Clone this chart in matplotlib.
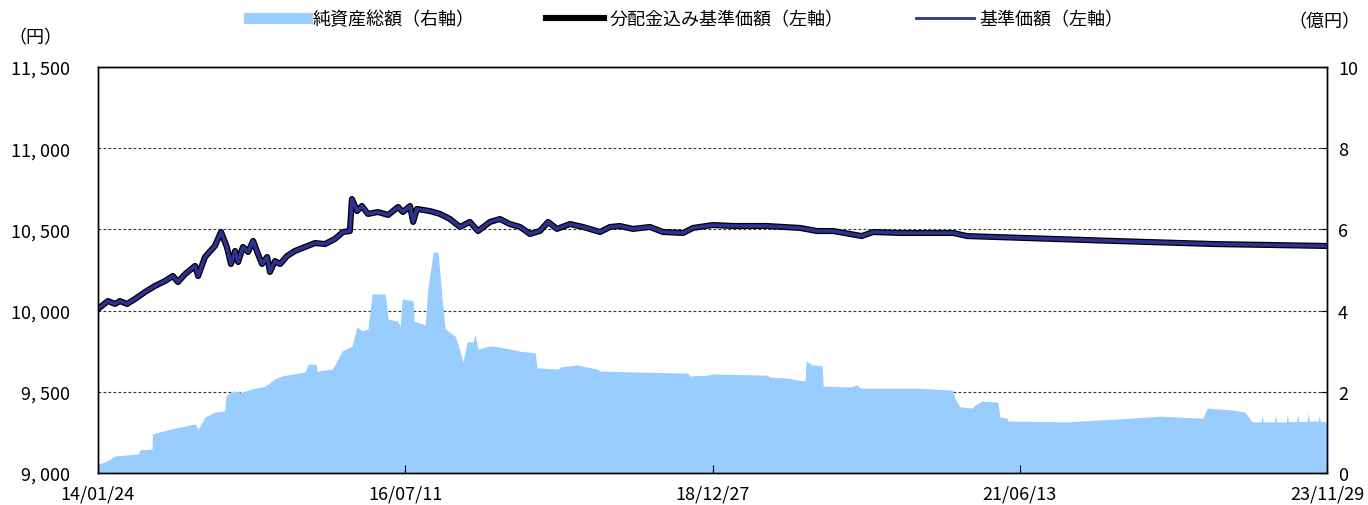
import pandas as pd
import numpy as np
import matplotlib
matplotlib.use("Agg")
import matplotlib.pyplot as plt
import matplotlib.dates as mdates
from matplotlib.lines import Line2D

plt.rcParams['font.family'] = ['Noto Sans CJK JP', 'DejaVu Sans']

# 基準価額 (円)
price_dates = [
    "2014-01-24", "2014-02-22", "2014-03-15", "2014-03-29", "2014-04-19", "2014-05-12",
    "2014-06-11", "2014-07-10", "2014-08-08", "2014-08-31", "2014-09-15", "2014-10-06",
    "2014-11-04", "2014-11-13", "2014-12-03", "2015-01-01", "2015-01-19", "2015-02-05",
    "2015-02-17", "2015-03-01", "2015-03-10", "2015-03-24", "2015-04-08", "2015-04-23",
    "2015-05-07", "2015-05-19", "2015-06-03", "2015-06-11", "2015-06-26", "2015-07-11",
    "2015-07-31", "2015-08-23", "2015-09-22", "2015-10-21", "2015-11-19", "2015-12-18",
    "2016-01-11", "2016-01-31", "2016-02-06", "2016-02-21", "2016-03-06", "2016-03-24",
    "2016-04-22", "2016-05-22", "2016-06-20", "2016-07-04", "2016-07-25", "2016-08-03",
    "2016-08-14", "2016-09-21", "2016-10-21", "2016-11-19", "2016-12-18", "2017-01-16",
    "2017-02-09", "2017-03-16", "2017-04-14", "2017-05-13", "2017-06-12", "2017-07-11",
    "2017-08-09", "2017-09-02", "2017-09-28", "2017-11-05", "2017-12-13", "2018-02-01",
    "2018-03-02", "2018-03-31", "2018-05-08", "2018-06-27", "2018-08-04", "2018-10-02",
    "2018-10-31", "2018-12-28", "2019-02-25", "2019-06-04", "2019-09-09", "2019-10-29",
    "2019-12-15", "2020-03-08", "2020-04-10", "2020-06-28", "2020-11-30", "2021-01-10",
    "2022-03-14", "2022-12-31", "2023-11-29",
]
price = [
    10010, 10059, 10041, 10059, 10041, 10071,
    10115, 10152, 10182, 10213, 10176, 10225,
    10275, 10213, 10330, 10398, 10484, 10392,
    10287, 10367, 10299, 10392, 10361, 10429,
    10349, 10287, 10330, 10238, 10305, 10287,
    10336, 10367, 10392, 10416, 10410, 10441,
    10484, 10490, 10687, 10613, 10644, 10595,
    10607, 10589, 10638, 10607, 10644, 10546,
    10626, 10613, 10595, 10564, 10515, 10546,
    10490, 10546, 10564, 10533, 10515, 10472,
    10490, 10546, 10503, 10533, 10515, 10484,
    10515, 10521, 10503, 10515, 10484, 10478,
    10509, 10527, 10521, 10521, 10509, 10490,
    10490, 10459, 10484, 10478, 10478, 10459,
    10429, 10410, 10398,
]
# no distributions paid, so both price series coincide
price_with_div = list(price)

# 純資産総額 (億円)
nav_dates = [
    "2014-01-24", "2014-02-13", "2014-02-28", "2014-03-15", "2014-05-21", "2014-05-27",
    "2014-07-01", "2014-07-02", "2014-08-23", "2014-11-04", "2014-11-13", "2014-12-03",
    "2015-01-01", "2015-01-30", "2015-02-02", "2015-02-23", "2015-03-21", "2015-04-20",
    "2015-05-28", "2015-06-26", "2015-07-16", "2015-09-22", "2015-10-01", "2015-10-24",
    "2015-10-27", "2015-12-10", "2015-12-19", "2016-01-08", "2016-02-06", "2016-02-21",
    "2016-03-07", "2016-03-24", "2016-04-05", "2016-05-13", "2016-05-22", "2016-06-20",
    "2016-06-26", "2016-07-02", "2016-08-03", "2016-08-06", "2016-09-07", "2016-09-16",
    "2016-10-01", "2016-10-15", "2016-10-27", "2016-11-05", "2016-12-04", "2016-12-19",
    "2016-12-27", "2017-01-08", "2017-01-25", "2017-01-31", "2017-02-09", "2017-03-16",
    "2017-04-14", "2017-06-12", "2017-07-26", "2017-08-01", "2017-10-01", "2017-10-07",
    "2017-11-26", "2018-01-23", "2018-02-01", "2018-05-09", "2018-10-14", "2018-10-23",
    "2018-12-11", "2018-12-28", "2019-06-04", "2019-06-13", "2019-08-02", "2019-08-31",
    "2019-09-24", "2019-09-27", "2019-10-14", "2019-11-13", "2019-11-16", "2020-02-02",
    "2020-02-23", "2020-03-03", "2020-08-17", "2020-11-29", "2020-12-05", "2020-12-20",
    "2021-01-24", "2021-02-02", "2021-02-23", "2021-04-10", "2021-04-16", "2021-05-07",
    "2021-05-10", "2021-10-29", "2022-03-25", "2022-07-29", "2022-12-01", "2022-12-13",
    "2023-02-27", "2023-04-03", "2023-04-24", "2023-05-20", "2023-05-23", "2023-05-26",
    "2023-06-28", "2023-07-01", "2023-07-04", "2023-08-02", "2023-08-05", "2023-08-08",
    "2023-09-01", "2023-09-04", "2023-09-07", "2023-10-02", "2023-10-05", "2023-10-08",
    "2023-11-03", "2023-11-06", "2023-11-09", "2023-11-29",
]
nav = [
    0.22, 0.27, 0.34, 0.42, 0.47, 0.57,
    0.59, 0.96, 1.08, 1.21, 1.08, 1.38,
    1.50, 1.53, 1.90, 2.02, 1.99, 2.07,
    2.14, 2.32, 2.39, 2.49, 2.68, 2.68,
    2.51, 2.56, 2.68, 3.00, 3.13, 3.60,
    3.50, 3.55, 4.41, 4.41, 3.79, 3.74,
    3.60, 4.29, 4.24, 3.74, 3.65, 4.61,
    5.44, 5.44, 4.29, 3.55, 3.37, 2.98,
    2.73, 3.23, 3.23, 3.42, 3.05, 3.13,
    3.10, 3.00, 2.96, 2.59, 2.56, 2.61,
    2.66, 2.56, 2.51, 2.49, 2.46, 2.39,
    2.41, 2.44, 2.41, 2.36, 2.34, 2.29,
    2.27, 2.76, 2.66, 2.64, 2.14, 2.12,
    2.17, 2.09, 2.09, 2.04, 1.85, 1.63,
    1.60, 1.67, 1.77, 1.75, 1.38, 1.35,
    1.28, 1.26, 1.33, 1.40, 1.35, 1.60,
    1.55, 1.50, 1.26, 1.26, 1.45, 1.26,
    1.26, 1.45, 1.26, 1.26, 1.45, 1.26,
    1.27, 1.47, 1.27, 1.27, 1.50, 1.28,
    1.28, 1.42, 1.28, 1.25,
]

left_ticks = [9000, 9500, 10000, 10500, 11000, 11500]
right_ticks = [0, 2, 4, 6, 8, 10]
date_ticks = ["2014-01-24", "2016-07-11", "2018-12-27", "2021-06-13", "2023-11-29"]

pdates = pd.to_datetime(price_dates)
ndates = pd.to_datetime(nav_dates)

fig = plt.figure(figsize=(13.68, 5.06), dpi=100)
ax = fig.add_axes([98 / 1368, 32 / 506, (1327 - 98) / 1368, (474 - 68) / 506])
ax2 = ax.twinx()

# area on the right axis, under the lines
ax2.fill_between(ndates, 0, nav, color='#99CCFF', linewidth=0, zorder=2)
ax2.set_ylim(0, 10)
ax2.set_yticks(right_ticks)
ax2.set_yticklabels([str(t) for t in right_ticks], fontsize=13)
ax2.grid(axis='y', color='#333333', linestyle=(0, (2.5, 2)), linewidth=0.8, zorder=0)
ax2.set_axisbelow(True)
ax2.tick_params(axis='y', direction='in', length=4, pad=8)

ax.set_zorder(ax2.get_zorder() + 1)
ax.patch.set_visible(False)
ax.plot(pdates, price_with_div, color='black', linewidth=4.4, solid_joinstyle='round')
ax.plot(pdates, price, color='#2E3192', linewidth=2.6, solid_joinstyle='round')
ax.set_ylim(9000, 11500)
ax.set_yticks(left_ticks)
ax.set_yticklabels(["{:,}".format(t).replace(",", ", ") for t in left_ticks], fontsize=13)
ax.tick_params(axis='y', length=0, pad=20)
ax.set_xlim(pd.Timestamp("2014-01-24"), pd.Timestamp("2023-11-29"))
ax.set_xticks(pd.to_datetime(date_ticks))
ax.xaxis.set_major_formatter(mdates.DateFormatter('%y/%m/%d'))
ax.tick_params(axis='x', direction='in', length=6, labelsize=13, pad=8)

for a in (ax, ax2):
    for s in a.spines.values():
        s.set_linewidth(1.0)
        s.set_color('black')

fig.text(8 / 1368, 1 - 38 / 506, "（円）", fontsize=13, va='center', ha='left')
fig.text(1360 / 1368, 1 - 22 / 506, "（億円）", fontsize=13, va='center', ha='right')

handles = [
    Line2D([], [], color='#99CCFF', linewidth=8),
    Line2D([], [], color='black', linewidth=4.4),
    Line2D([], [], color='#2E3192', linewidth=2),
]
labels = ["純資産総額（右軸）", "分配金込み基準価額（左軸）", "基準価額（左軸）"]
fig.legend(handles, labels, loc='center', bbox_to_anchor=(686 / 1368, 1 - 20 / 506),
           ncol=3, frameon=False, fontsize=13, handlelength=3.2, handletextpad=0.3,
           columnspacing=4.0)

fig.savefig("out.png", dpi=100)
